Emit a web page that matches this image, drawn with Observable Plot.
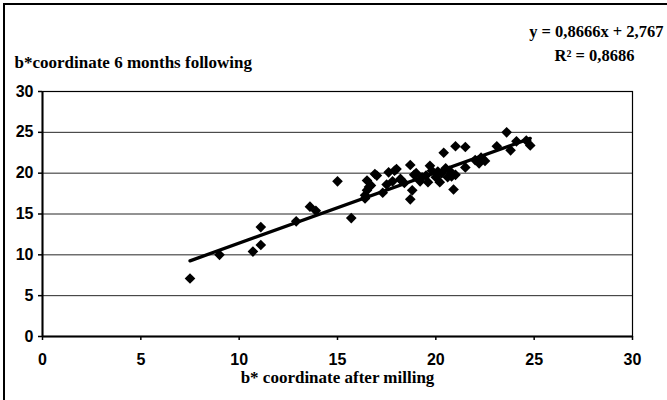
<!DOCTYPE html>
<html>
<head>
<meta charset="utf-8">
<script src="https://cdn.jsdelivr.net/npm/d3@7"></script>
<script src="https://cdn.jsdelivr.net/npm/@observablehq/plot@0.6"></script>
<style>
  html, body { margin: 0; padding: 0; background: #fff; }
  #wrap { position: relative; width: 667px; height: 400px; overflow: hidden; }
  #border { position: absolute; left: 3px; top: 3px; width: 700px; height: 500px;
            border-left: 2px solid #000; border-top: 2px solid #000; pointer-events: none; }
</style>
</head>
<body>
<div id="wrap"><div id="border"></div></div>
<script>
// b* after milling (x) and b* 6 months following (y)
const bMilling = [7.5, 9.0, 10.7, 11.1, 11.1, 12.9, 13.6, 13.9, 15.0, 15.7,
  16.4, 16.5, 16.5, 16.4, 17.0, 17.3, 17.6, 17.9, 18.2, 18.7,
  18.8, 18.7, 19.0, 19.3, 19.7, 19.6, 20.1, 20.2, 20.4, 20.6,
  20.8, 20.9, 21.0, 21.5, 21.5, 22.2, 22.3, 23.1, 23.6, 23.8,
  24.1, 24.6, 24.8, 16.9, 18.0, 18.2, 19.5, 20.0, 16.7, 17.5,
  18.4, 19.2, 19.8, 20.3, 20.7, 21.0, 22.0, 22.5, 17.8, 18.9,
  16.6, 20.5];
const bFollowing = [7.1, 10.0, 10.4, 11.2, 13.4, 14.1, 15.9, 15.4, 19.0, 14.5,
  16.9, 17.9, 19.1, 17.3, 19.7, 17.6, 20.1, 20.3, 19.2, 21.0,
  17.9, 16.8, 20.0, 19.5, 20.9, 18.9, 20.2, 18.9, 22.5, 19.5,
  19.6, 18.0, 23.3, 23.2, 20.7, 21.2, 21.9, 23.3, 25.0, 22.8,
  23.9, 24.0, 23.4, 19.9, 20.5, 19.3, 19.7, 19.5, 18.5, 18.6,
  18.8, 19.0, 20.3, 20.0, 20.3, 19.8, 21.6, 21.5, 19.0, 19.8,
  18.3, 20.6];
const xTicks = [0, 5, 10, 15, 20, 25, 30];
const yTicks = [0, 5, 10, 15, 20, 25, 30];
const slope = 0.8666;
const intercept = 2.767;
const eqLabel = "y = 0,8666x + 2,767";
const r2Label = "R\u00B2 = 0,8686";
const yTitle = "b*coordinate 6 months following";
const xTitle = "b* coordinate after milling";

const points = bMilling.map((x, i) => ({x, y: bFollowing[i]}));
const xExt = d3.extent(bMilling);
const trend = xExt.map(x => ({x, y: slope * x + intercept}));

const serif = "'Liberation Serif', 'Times New Roman', serif";

const chart = Plot.plot({
  width: 667,
  height: 400,
  marginLeft: 42,
  marginRight: 35,
  marginTop: 91,
  marginBottom: 64,
  style: {fontFamily: "'Liberation Sans', Arial, sans-serif", fontSize: "16px", fontWeight: "bold", color: "#000", background: "transparent"},
  x: {domain: [0, 30], label: null},
  y: {domain: [0, 30], label: null},
  marks: [
    Plot.gridY(yTicks, {stroke: "#000", strokeOpacity: 0.85, strokeWidth: 1}),
    Plot.frame({stroke: "#000", strokeWidth: 1.2}),
    Plot.axisX({ticks: xTicks, tickSize: 4, tickPadding: 13, stroke: "#000", strokeWidth: 1.5, fontSize: 16, fontWeight: "bold"}),
    Plot.axisY({ticks: yTicks, tickSize: 4, tickPadding: 5, stroke: "#000", strokeWidth: 1.5, fontSize: 16, fontWeight: "bold"}),
    Plot.ruleX([0], {stroke: "#000", strokeWidth: 2}),
    Plot.ruleY([0], {stroke: "#000", strokeWidth: 2}),
    Plot.line(trend, {x: "x", y: "y", stroke: "#000", strokeWidth: 3.3}),
    Plot.dot(points, {x: "x", y: "y", symbol: "diamond2", r: 4.8, fill: "#000", stroke: "none"}),
    Plot.text([yTitle], {frameAnchor: "top-left", textAnchor: "start", dx: -28, dy: -36, fontFamily: serif, fontSize: 17, fontWeight: "bold"}),
    Plot.text([eqLabel], {frameAnchor: "top-right", textAnchor: "end", dx: 31, dy: -66, fontFamily: serif, fontSize: 16.5, fontWeight: "bold"}),
    Plot.text([r2Label], {frameAnchor: "top-right", textAnchor: "middle", dx: -38, dy: -42, fontFamily: serif, fontSize: 16.5, fontWeight: "bold"}),
    Plot.text([xTitle], {frameAnchor: "bottom", textAnchor: "middle", dy: 46, fontFamily: serif, fontSize: 17, fontWeight: "bold"})
  ]
});
document.getElementById("wrap").prepend(chart);
</script>
</body>
</html>
